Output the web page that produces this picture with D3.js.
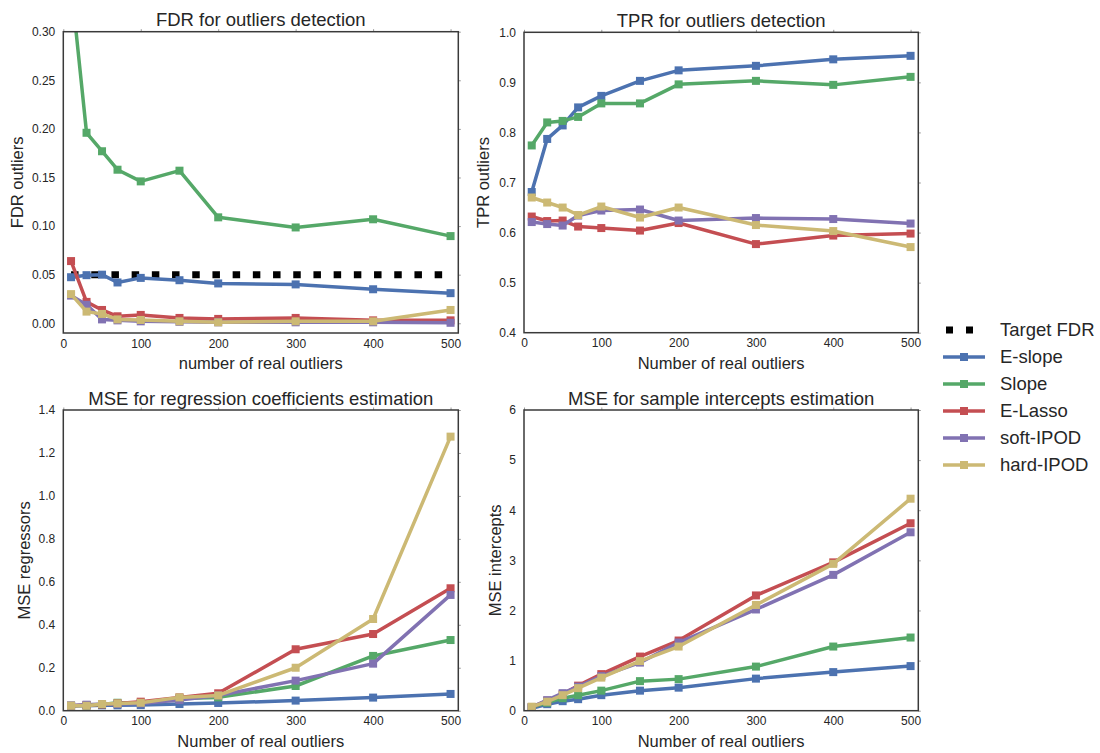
<!DOCTYPE html>
<html><head><meta charset="utf-8">
<script src="https://cdn.jsdelivr.net/npm/d3@7"></script>
<style>body{margin:0;background:#fff}svg{font-family:"Liberation Sans",Arial,sans-serif}</style>
</head><body><svg id="c" width="1100" height="753"></svg>
<script>
const xs = [10, 30, 50, 70, 100, 150, 200, 300, 400, 500];
const methods = ["E-slope", "Slope", "E-Lasso", "soft-IPOD", "hard-IPOD"];
const colors = ["#4C72B0", "#55A868", "#C44E52", "#8172B2", "#CCB974"];
const targetFDR = 0.05;

const fdrESlope = [0.0474, 0.0495, 0.050, 0.042, 0.0467, 0.0443, 0.041, 0.040, 0.035, 0.031];
const fdrSlope = [0.35, 0.196, 0.177, 0.158, 0.146, 0.157, 0.109, 0.0986, 0.107, 0.0897];
const fdrELasso = [0.064, 0.022, 0.0137, 0.0072, 0.0086, 0.0055, 0.0045, 0.0055, 0.003, 0.003];
const fdrSoft = [0.0285, 0.019, 0.004, 0.003, 0.002, 0.0015, 0.001, 0.001, 0.001, 0.0005];
const fdrHard = [0.030, 0.012, 0.0096, 0.004, 0.0034, 0.002, 0.001, 0.002, 0.002, 0.0137];

const tprESlope = [0.681, 0.787, 0.814, 0.850, 0.873, 0.903, 0.924, 0.933, 0.946, 0.953];
const tprSlope = [0.774, 0.820, 0.823, 0.831, 0.858, 0.858, 0.896, 0.903, 0.895, 0.911];
const tprELasso = [0.632, 0.623, 0.624, 0.612, 0.609, 0.604, 0.619, 0.577, 0.594, 0.598];
const tprSoft = [0.621, 0.617, 0.614, 0.634, 0.644, 0.646, 0.624, 0.629, 0.627, 0.618];
const tprHard = [0.670, 0.660, 0.650, 0.635, 0.652, 0.630, 0.650, 0.615, 0.603, 0.571];

const regESlope = [0.023, 0.023, 0.025, 0.025, 0.026, 0.031, 0.036, 0.047, 0.061, 0.078];
const regSlope = [0.023, 0.025, 0.029, 0.037, 0.037, 0.057, 0.062, 0.115, 0.255, 0.329];
const regELasso = [0.023, 0.026, 0.029, 0.034, 0.042, 0.062, 0.081, 0.286, 0.357, 0.570];
const regSoft = [0.023, 0.028, 0.031, 0.031, 0.034, 0.050, 0.071, 0.140, 0.219, 0.539];
const regHard = [0.023, 0.023, 0.031, 0.034, 0.037, 0.062, 0.071, 0.200, 0.427, 1.276];

const intESlope = [0.05, 0.13, 0.19, 0.23, 0.31, 0.40, 0.46, 0.64, 0.77, 0.89];
const intSlope = [0.07, 0.16, 0.25, 0.31, 0.40, 0.59, 0.63, 0.88, 1.28, 1.46];
const intELasso = [0.07, 0.20, 0.33, 0.50, 0.73, 1.08, 1.40, 2.30, 2.96, 3.74];
const intSoft = [0.07, 0.21, 0.35, 0.48, 0.69, 0.96, 1.36, 2.02, 2.71, 3.56];
const intHard = [0.08, 0.18, 0.31, 0.45, 0.66, 0.99, 1.28, 2.11, 2.93, 4.23];

const xTicks = [0, 100, 200, 300, 400, 500];
const fdrTicks = [0.00, 0.05, 0.10, 0.15, 0.20, 0.25, 0.30];
const tprTicks = [0.4, 0.5, 0.6, 0.7, 0.8, 0.9, 1.0];
const regTicks = [0.0, 0.2, 0.4, 0.6, 0.8, 1.0, 1.2, 1.4];
const intTicks = [0, 1, 2, 3, 4, 5, 6];

const panels = [
  {title: "FDR for outliers detection", xl: "number of real outliers", yl: "FDR outliers",
   series: [fdrESlope, fdrSlope, fdrELasso, fdrSoft, fdrHard], ydom: [-0.01, 0.30], ticks: fdrTicks, fmt: d3.format(".2f"),
   box: [63.3, 458.3, 31.7, 333], ylx: 17, target: true},
  {title: "TPR for outliers detection", xl: "Number of real outliers", yl: "TPR outliers",
   series: [tprESlope, tprSlope, tprELasso, tprSoft, tprHard], ydom: [0.4, 1.0], ticks: tprTicks, fmt: d3.format(".1f"),
   box: [524, 918.3, 32.3, 332.7], ylx: 483},
  {title: "MSE for regression coefficients estimation", xl: "Number of real outliers", yl: "MSE regressors",
   series: [regESlope, regSlope, regELasso, regSoft, regHard], ydom: [0, 1.4], ticks: regTicks, fmt: d3.format(".1f"),
   box: [63.3, 458.3, 410, 710.7], ylx: 24},
  {title: "MSE for sample intercepts estimation", xl: "Number of real outliers", yl: "MSE intercepts",
   series: [intESlope, intSlope, intELasso, intSoft, intHard], ydom: [0, 6], ticks: intTicks, fmt: d3.format("d"),
   box: [524, 918.3, 410, 710.7], ylx: 495}
];

const svg = d3.select("#c");
const txt = "#262626";
const ff = "'Liberation Sans',Arial,sans-serif";

panels.forEach((p, pi) => {
  const [x0, x1, y0, y1] = p.box;
  const x = d3.scaleLinear().domain([0, 510]).range([x0, x1]);
  const y = d3.scaleLinear().domain(p.ydom).range([y1, y0]);
  const g = svg.append("g");
  const cid = "clip" + pi;
  svg.append("clipPath").attr("id", cid).append("rect")
    .attr("x", x0).attr("y", y0).attr("width", x1 - x0).attr("height", y1 - y0);

  const ya = d3.axisLeft(y).tickValues(p.ticks).tickSize(0).tickPadding(8).tickFormat(p.fmt);
  const yg = g.append("g").attr("transform", `translate(${x0},0)`).call(ya);
  yg.select(".domain").remove();
  yg.selectAll("text").attr("font-size", 12).attr("fill", txt).attr("font-family", ff);
  const yr = d3.axisRight(y).tickValues(p.ticks).tickSize(2.5).tickFormat("");
  const yrg = g.append("g").attr("transform", `translate(${x1},0)`).call(yr);
  yrg.select(".domain").remove();
  yrg.selectAll("line").attr("stroke", "#999");
  const xa = d3.axisBottom(x).tickValues(xTicks).tickSize(0).tickPadding(6).tickFormat(d3.format("d"));
  const xg = g.append("g").attr("transform", `translate(0,${y1})`).call(xa);
  xg.select(".domain").remove();
  xg.selectAll("text").attr("font-size", 12).attr("fill", txt).attr("font-family", ff);
  const xt = d3.axisTop(x).tickValues(xTicks).tickSize(2.5).tickFormat("");
  const xtg = g.append("g").attr("transform", `translate(0,${y0})`).call(xt);
  xtg.select(".domain").remove();
  xtg.selectAll("line").attr("stroke", "#999");

  const cg = g.append("g").attr("clip-path", `url(#${cid})`);
  if (p.target) {
    cg.append("line").attr("x1", x(xs[0])).attr("x2", x(xs[xs.length - 1]))
      .attr("y1", y(targetFDR)).attr("y2", y(targetFDR))
      .attr("stroke", "#000").attr("stroke-width", 7).attr("stroke-dasharray", "7.5,12.7");
  }
  const line = d3.line().x((d, i) => x(xs[i])).y(d => y(d));
  p.series.forEach((s, si) => {
    cg.append("path").datum(s).attr("d", line).attr("fill", "none")
      .attr("stroke", colors[si]).attr("stroke-width", 3.5).attr("stroke-linejoin", "round");
    cg.selectAll(null).data(s).enter().append("rect")
      .attr("x", (d, i) => x(xs[i]) - 4).attr("y", d => y(d) - 4)
      .attr("width", 8).attr("height", 8).attr("fill", colors[si]);
  });

  g.append("rect").attr("x", x0).attr("y", y0).attr("width", x1 - x0).attr("height", y1 - y0)
    .attr("fill", "none").attr("stroke", "#3a3a3a").attr("stroke-width", 1.5);

  g.append("text").attr("x", (x0 + x1) / 2).attr("y", y0 - 5.5).attr("text-anchor", "middle")
    .attr("font-size", 18.5).attr("fill", txt).text(p.title);
  g.append("text").attr("x", (x0 + x1) / 2).attr("y", y1 + 36).attr("text-anchor", "middle")
    .attr("font-size", 16.5).attr("fill", txt).text(p.xl);
  g.append("text").attr("transform", `translate(${p.ylx},${(y0 + y1) / 2}) rotate(-90)`)
    .attr("text-anchor", "middle").attr("dy", "0.35em").attr("font-size", 16.5).attr("fill", txt).text(p.yl);
});

const lg = svg.append("g");
const lx0 = 943, lx1 = 985, ltx = 1000, ly0 = 330, ldy = 27;
lg.append("rect").attr("x", 946).attr("y", ly0 - 3.5).attr("width", 7).attr("height", 7).attr("fill", "#000");
lg.append("rect").attr("x", 966).attr("y", ly0 - 3.5).attr("width", 7).attr("height", 7).attr("fill", "#000");
lg.append("text").attr("x", ltx).attr("y", ly0).attr("dy", "0.35em").attr("font-size", 18.5).attr("fill", txt).text("Target FDR");
methods.forEach((m, i) => {
  const yy = ly0 + ldy * (i + 1);
  lg.append("line").attr("x1", lx0).attr("x2", lx1).attr("y1", yy).attr("y2", yy)
    .attr("stroke", colors[i]).attr("stroke-width", 3.5);
  lg.append("rect").attr("x", (lx0 + lx1) / 2 - 4).attr("y", yy - 4).attr("width", 8).attr("height", 8).attr("fill", colors[i]);
  lg.append("text").attr("x", ltx).attr("y", yy).attr("dy", "0.35em").attr("font-size", 18.5).attr("fill", txt).text(m);
});
</script></body></html>
